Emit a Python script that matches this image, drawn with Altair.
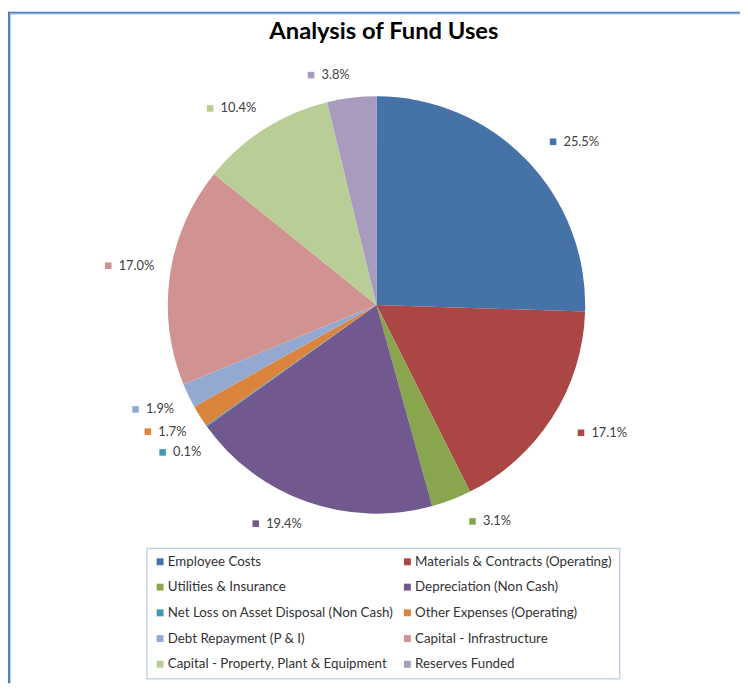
import math
import altair as alt
import pandas as pd

categories = [
    "Employee Costs",
    "Materials & Contracts (Operating)",
    "Utilities & Insurance",
    "Depreciation (Non Cash)",
    "Net Loss on Asset Disposal (Non Cash)",
    "Other Expenses (Operating)",
    "Debt Repayment (P & I)",
    "Capital - Infrastructure",
    "Capital - Property, Plant & Equipment",
    "Reserves Funded",
]
values = [25.5, 17.1, 3.1, 19.4, 0.1, 1.7, 1.9, 17.0, 10.4, 3.8]
colors = ["#4572A7", "#AA4643", "#89A54E", "#71588F", "#4198AF",
          "#DB843D", "#93A9CF", "#D19392", "#B9CD96", "#A99BBD"]

# layout (view coordinates)
W, H = 732, 627
CX, CY = 372.5, 244.5
R = 211
RL = 227      # distance of a label box's nearest corner from the centre
GAP_R = 12    # extra gap for labels on the right-hand side
BOX_H = 14
MIN_GAP = 21

total = sum(values)
rows = []
cum = 0.0
for i, (c, v) in enumerate(zip(categories, values)):
    mid = (cum + v / 2) / total * 2 * math.pi
    cum += v
    lab = f"{v:.1f}%"
    ndig = sum(ch.isdigit() for ch in lab)
    textw = 7.4 * ndig + 3.4 + 10.4
    right = math.sin(mid) >= 0
    top = math.cos(mid) > 0
    py = CY - RL * math.cos(mid)
    yc = py - BOX_H / 2 if top else py + BOX_H / 2
    rows.append(dict(cat=c, value=v, idx=i, label=lab, textw=textw,
                     right=right, top=top, ly=yc))

# spread labels that would collide on the same side, keep them on the circle
for side in (True, False):
    grp = sorted([r for r in rows if r["right"] == side], key=lambda r: r["ly"])
    for a, b in zip(grp, grp[1:]):
        if b["ly"] - a["ly"] < MIN_GAP:
            b["ly"] = a["ly"] + MIN_GAP
for r in rows:
    corner_y = r["ly"] + BOX_H / 2 if r["top"] else r["ly"] - BOX_H / 2
    dy = corner_y - CY
    dx = math.sqrt(max(RL ** 2 - dy ** 2, 0))
    if r["right"]:
        left = CX + dx + GAP_R
    else:
        left = CX - dx - (14 + r["textw"])
    r["mx"] = left + 3.5
    r["tx"] = left + 14

df = pd.DataFrame(rows)

color_scale = alt.Scale(domain=categories, range=colors)
xs = alt.Scale(domain=[0, W], nice=False, zero=False)
ys = alt.Scale(domain=[0, H], nice=False, zero=False, reverse=True)

legend = alt.Legend(
    title=None, orient="none", legendX=140, legendY=490, columns=2,
    direction="horizontal",
    symbolType="square", symbolSize=49, symbolStrokeWidth=0,
    symbolOpacity=1,
    labelFont="Lato", labelFontSize=13.5, labelColor="#333333",
    labelLimit=400, labelOffset=1, rowPadding=11, columnPadding=7,
    padding=7, strokeColor="#A7BFDE",
)

base = alt.Chart(df)

arcs = base.mark_arc(outerRadius=R, strokeWidth=0).encode(
    theta=alt.Theta("value:Q", stack=True),
    order=alt.Order("idx:Q"),
    color=alt.Color("cat:N", scale=color_scale, legend=legend),
    x=alt.value(CX), y=alt.value(CY),
    tooltip=["cat:N", "value:Q"],
)

markers = base.mark_square(size=44, opacity=1, filled=True).encode(
    x=alt.X("mx:Q", scale=xs, axis=None),
    y=alt.Y("ly:Q", scale=ys, axis=None),
    color=alt.Color("cat:N", scale=color_scale, legend=legend),
)

labels = base.mark_text(align="left", baseline="middle", font="Lato",
                        fontSize=13, color="#404040").encode(
    x=alt.X("tx:Q", scale=xs, axis=None),
    y=alt.Y("ly:Q", scale=ys, axis=None),
    text="label:N",
)

one = alt.Chart(pd.DataFrame({"a": [0]}))
top_b = one.mark_rule(color="#4F81BD", strokeWidth=2).encode(
    x=alt.value(0), x2=alt.value(W + 8), y=alt.value(-51))
top_b2 = one.mark_rule(color="#B7CCE6", strokeWidth=1).encode(
    x=alt.value(2), x2=alt.value(W + 8), y=alt.value(-49.5))
left_b = one.mark_rule(color="#4F81BD", strokeWidth=2).encode(
    x=alt.value(1), y=alt.value(-52), y2=alt.value(H))
left_b2 = one.mark_rule(color="#B7CCE6", strokeWidth=1).encode(
    x=alt.value(2.5), y=alt.value(-50), y2=alt.value(H))

chart = alt.layer(arcs, markers, labels, top_b, top_b2, left_b, left_b2).properties(
    width=W, height=H,
    title=alt.TitleParams("Analysis of Fund Uses", font="Lato", fontSize=24,
                          fontWeight="bold", color="#000000", anchor="middle",
                          baseline="alphabetic", offset=-53, dx=14),
    autosize=alt.AutoSizeParams(type="none"),
    padding={"left": 0, "top": 52, "right": 8, "bottom": 0},
    background="#FFFFFF",
).configure_view(strokeWidth=0, stroke="transparent")

chart.save("out.html", embed_options={"renderer": "svg", "actions": False})
